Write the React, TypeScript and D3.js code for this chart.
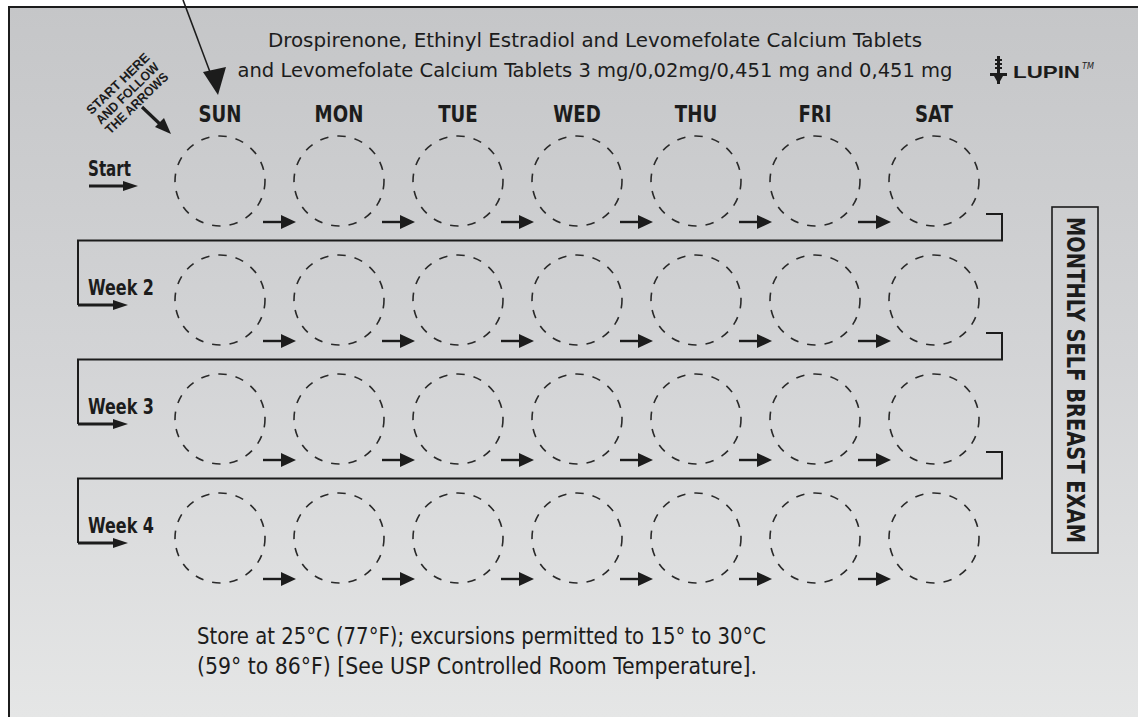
import * as d3 from 'd3'

const DAYS = ['SUN', 'MON', 'TUE', 'WED', 'THU', 'FRI', 'SAT']
const WEEKS = ['Start', 'Week 2', 'Week 3', 'Week 4']
const TITLE_LINES = [
  'Drospirenone, Ethinyl Estradiol and Levomefolate Calcium Tablets',
  'and Levomefolate Calcium Tablets 3 mg/0,02mg/0,451 mg and 0,451 mg',
]
const STORAGE_LINES = [
  'Store at 25°C (77°F); excursions permitted to 15° to 30°C',
  '(59° to 86°F) [See USP Controlled Room Temperature].',
]
const INSTRUCTION_LINES = ['START HERE', 'AND FOLLOW', 'THE ARROWS']
const SIDE_LABEL = 'MONTHLY SELF BREAST EXAM'
const BRAND = 'LUPIN'

const W = 1138
const H = 717
const FONT = '"Liberation Sans Narrow", "DejaVu Sans Condensed", "Roboto Condensed", Roboto, Arial, sans-serif'
const INK = '#1c1c1c'

export default function App() {
  const x = d3.scalePoint<string>().domain(DAYS).range([220, 934])
  const y = d3.scalePoint<string>().domain(WEEKS).range([181, 538])
  const r = 45

  // small arrow between two pills
  const smallArrow = (cx: number, cy: number, key: string) => {
    const x0 = cx + 43
    const x1 = cx + 76
    const yy = cy + 41
    return (
      <g key={key}>
        <line x1={x0} x2={x1 - 12} y1={yy} y2={yy} stroke={INK} strokeWidth={2.4} />
        <path d={`M${x1},${yy} L${x1 - 15},${yy - 7} L${x1 - 15},${yy + 7} Z`} fill={INK} />
      </g>
    )
  }

  const weekArrow = (x0: number, tip: number, yy: number) => (
    <g>
      <line x1={x0} x2={tip - 10} y1={yy} y2={yy} stroke={INK} strokeWidth={3} />
      <path d={`M${tip},${yy} L${tip - 15},${yy - 5} L${tip - 15},${yy + 5} Z`} fill={INK} />
    </g>
  )

  return (
    <svg width={W} height={H} style={{ position: 'absolute', left: 0, top: 0 }} fontFamily={FONT}>
      <defs>
        <linearGradient id="bg" x1="0" y1="0" x2="0" y2="1">
          <stop offset="0" stopColor="#c5c6c8" />
          <stop offset="0.5" stopColor="#d3d4d6" />
          <stop offset="1" stopColor="#e5e6e6" />
        </linearGradient>
      </defs>
      <rect width={W} height={H} fill="#fff" />
      <rect x={9} y={7} width={W - 9} height={H - 7} fill="url(#bg)" />
      <path d={`M9,${H} V7 H${W}`} fill="none" stroke={INK} strokeWidth={2} />

      {/* pointer into the first pill */}
      <line x1={183} y1={0} x2={213} y2={80} stroke={INK} strokeWidth={1.6} />
      <path d="M218,95 L203,72 L226,67 Z" fill={INK} />

      {/* title */}
      {TITLE_LINES.map((t, i) => (
        <text key={t} x={595} y={47 + i * 30} textAnchor="middle" fontSize={19} fill={INK}
          textLength={i === 0 ? 654 : 715} lengthAdjust="spacingAndGlyphs">{t}</text>
      ))}

      {/* brand mark */}
      <g fill={INK}>
        <rect x={997} y={56} width={3} height={28} />
        <rect x={995} y={59} width={7} height={2} />
        <rect x={995} y={63} width={7} height={2} />
        <rect x={995} y={67} width={7} height={2} />
        <rect x={990} y={73} width={17} height={3} />
        <path d="M994,76 L1003,76 L998.5,84 Z" />
        <text x={1013} y={78} fontSize={17} fontWeight="bold" fontFamily="Arial, 'Liberation Sans', sans-serif"
          textLength={67} lengthAdjust="spacingAndGlyphs">{BRAND}</text>
        <text x={1082} y={69} fontSize={9} fontStyle="italic">TM</text>
      </g>

      {/* start instruction */}
      <g transform="translate(127,93) rotate(-44)" fill={INK}>
        {INSTRUCTION_LINES.map((t, i) => (
          <text key={t} x={0} y={(i - 1) * 13.5 + 5} textAnchor="middle" fontSize={13} fontWeight="bold"
            fontFamily="Arial, 'Liberation Sans', sans-serif" textLength={82} lengthAdjust="spacingAndGlyphs">{t}</text>
        ))}
      </g>
      <line x1={142} y1={107} x2={162} y2={126} stroke={INK} strokeWidth={3.2} />
      <path d="M171,134 L155,127 L164,118 Z" fill={INK} />

      {/* day headers */}
      {DAYS.map(d => (
        <text key={d} transform={`translate(${x(d)},122) scale(0.86,1)`} textAnchor="middle"
          fontSize={23.5} fontWeight="bold" fill={INK}>{d}</text>
      ))}

      {/* rows */}
      {WEEKS.map((w, i) => {
        const cy = y(w)!
        const prev = i > 0 ? y(WEEKS[i - 1])! : 0
        const sepY = (prev + cy) / 2
        return (
          <g key={w}>
            {i > 0 && (
              <path d={`M986,${prev + 33} H1002 V${sepY} H78 V${cy + 5}`} fill="none" stroke={INK} strokeWidth={2} />
            )}
            {i === 0 ? weekArrow(89, 138, cy + 5) : weekArrow(78, 128, cy + 5)}
            <text x={88} y={cy - 5} fontSize={22} fontWeight="bold" fill={INK}
              textLength={i === 0 ? 43 : 66} lengthAdjust="spacingAndGlyphs">{w}</text>
            {DAYS.map(d => (
              <circle key={d} cx={x(d)} cy={cy} r={r} fill="none" stroke="#2a2a2a" strokeWidth={1.6}
                strokeDasharray="8.5 9" />
            ))}
            {DAYS.slice(0, -1).map(d => smallArrow(x(d)!, cy, `${w}-${d}`))}
          </g>
        )
      })}

      {/* side label */}
      <rect x={1052} y={207} width={46} height={346} fill="none" stroke={INK} strokeWidth={1.6} />
      <text transform="translate(1075,380) rotate(90)" textAnchor="middle" dominantBaseline="central"
        fontSize={24} fontWeight="bold" fill={INK} textLength={326} lengthAdjust="spacingAndGlyphs">{SIDE_LABEL}</text>

      {/* storage note */}
      {STORAGE_LINES.map((t, i) => (
        <text key={t} x={197} y={644 + i * 30} fontSize={23} fill={INK}
          textLength={i === 0 ? 569 : 560} lengthAdjust="spacingAndGlyphs">{t}</text>
      ))}
    </svg>
  )
}
